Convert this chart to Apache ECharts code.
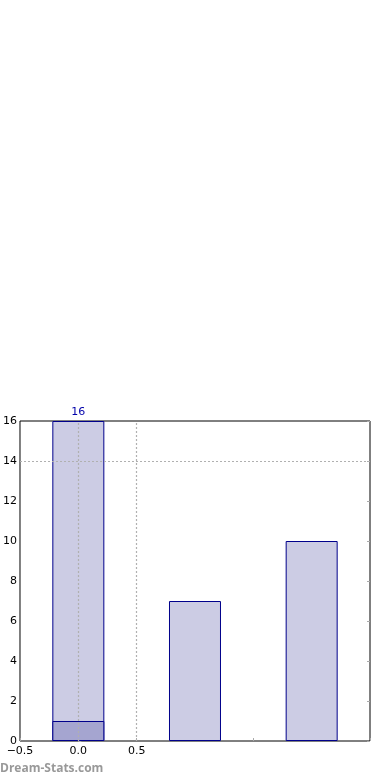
<!DOCTYPE html>
<html><head><meta charset="utf-8">
<script src="https://cdn.jsdelivr.net/npm/echarts@6/dist/echarts.min.js"></script>
<style>html,body{margin:0;padding:0;background:#fff}#c{width:390px;height:780px}</style>
</head><body><div id="c"></div>
<script>
var categories = [0, 1, 2];
var totals = [16, 7, 10];
var overlayPos = [0];
var overlayVals = [1];
var xTickLabels = ['-0.5', '0.0', '0.5'];
var yTicks = [0, 2, 4, 6, 8, 10, 12, 14, 16];
var gridX = [0, 0.5];
var gridY = [14];

var chart = echarts.init(document.getElementById('c'));
var font = 'DejaVu Sans';
chart.setOption({
  animation: false,
  grid: {left: 18, top: 421, width: 352, height: 320, show: true, borderColor: '#000', borderWidth: 1, backgroundColor: 'transparent'},
  xAxis: [{
    type: 'value', min: -0.5, max: 2.5, interval: 0.5,
    axisLine: {show: false},
    axisTick: {show: true, inside: true, length: 3, lineStyle: {color: '#aaa'}},
    splitLine: {show: false},
    axisLabel: {color: '#000', fontFamily: font, fontSize: 11, margin: 5,
      formatter: function (v) { var s = v.toFixed(1); if (v < 0) s = '\u2212' + Math.abs(v).toFixed(1); return xTickLabels.indexOf(v.toFixed(1)) >= 0 ? s : ''; }}
  }],
  yAxis: [{
    type: 'value', min: 0, max: 16, interval: 2,
    axisLine: {show: false},
    axisTick: {show: true, inside: true, length: 3, lineStyle: {color: '#aaa'}},
    splitLine: {show: false},
    axisLabel: {color: '#000', fontFamily: font, fontSize: 11, margin: 3}
  }, {
    type: 'value', min: 0, max: 16, interval: 2, position: 'right',
    axisLine: {show: false},
    axisTick: {show: true, inside: true, length: 3, lineStyle: {color: '#aaa'}},
    splitLine: {show: false},
    axisLabel: {show: false}
  }],
  series: [{
    type: 'bar', barWidth: 52,
    data: categories.map(function (c, i) { return [c, totals[i]]; }),
    itemStyle: {color: 'rgb(204,204,228)', borderColor: '#00008b', borderWidth: 1},
    label: {show: true, position: 'top', distance: 3, color: '#0000aa', fontFamily: font, fontSize: 11,
      formatter: function (p) { return p.dataIndex === 0 ? String(p.value[1]) : ''; }},
    markLine: {
      silent: true, symbol: 'none', label: {show: false},
      lineStyle: {color: '#b0b0b0', type: [2, 2], width: 1.2},
      data: gridX.map(function (x) { return {xAxis: x}; }).concat(gridY.map(function (y) { return {yAxis: y}; }))
    },
    z: 2
  }, {
    type: 'bar', barWidth: 52, barGap: '-100%',
    data: overlayPos.map(function (c, i) { return [c, overlayVals[i]]; }),
    itemStyle: {color: 'rgb(165,165,208)', borderColor: '#00008b', borderWidth: 1},
    z: 3
  }],
  graphic: [{
    type: 'text', left: 0, top: 763,
    style: {text: 'Dream-Stats.com', fill: '#999', font: 'bold 12px "Open Sans"'}
  }]
});
</script></body></html>
